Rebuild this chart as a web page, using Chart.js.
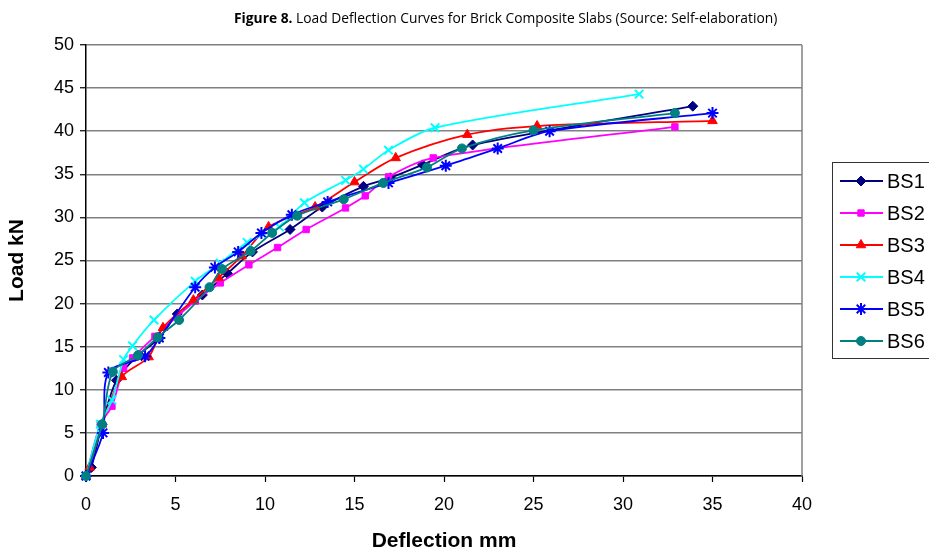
<!DOCTYPE html>
<html>
<head>
<meta charset="utf-8">
<script src="https://cdn.jsdelivr.net/npm/chart.js@4.4.1/dist/chart.umd.min.js"></script>
<style>
  body { margin: 0; background: #fff; }
  #wrap { position: relative; width: 929px; height: 552px; overflow: hidden; }
  #title {
    position: absolute; top: 8px; left: 234px;
    font-family: "Open Sans", sans-serif; font-size: 13.8px; color: #000; white-space: nowrap;
  }
</style>
</head>
<body>
<div id="wrap">
  <div id="title"><b>Figure 8.</b> Load Deflection Curves for Brick Composite Slabs (Source: Self-elaboration)</div>
  <canvas id="myChart" width="929" height="552"></canvas>
</div>
<script>
const seriesNames = ["BS1", "BS2", "BS3", "BS4", "BS5", "BS6"];

// deflection (mm) / load (kN)
const deflBS1 = [0, 0.3, 0.9, 1.7, 2.9, 4.1, 5.1, 6.5, 7.9, 9.3, 11.4, 13.2, 15.5, 17.0, 18.8, 21.6, 33.9];
const loadBS1 = [0, 1, 6, 11.1, 14, 16, 18.8, 21, 23.5, 26, 28.6, 31.2, 33.6, 34.6, 36.1, 38.4, 42.9];

const deflBS2 = [0, 0.8, 1.45, 2.1, 2.6, 3.85, 6.1, 7.5, 9.1, 10.7, 12.3, 14.5, 15.6, 16.9, 19.4, 32.9];
const loadBS2 = [0, 6, 8.1, 12.5, 13.7, 16.2, 20.3, 22.4, 24.5, 26.5, 28.6, 31.1, 32.5, 34.7, 36.9, 40.5];

const deflBS3 = [0, 0.2, 0.9, 2.0, 3.5, 4.3, 6.0, 7.4, 8.7, 10.2, 12.8, 15.0, 17.3, 21.3, 25.2, 35.0];
const loadBS3 = [0, 1, 6, 11.5, 13.8, 17.2, 20.4, 23.0, 25.5, 28.9, 31.2, 34.1, 36.9, 39.6, 40.6, 41.2];

const deflBS4 = [0, 0.8, 1.45, 2.1, 2.6, 3.8, 6.1, 7.5, 9.0, 10.8, 12.2, 14.5, 15.5, 16.9, 19.5, 30.9];
const loadBS4 = [0, 6, 8.8, 13.5, 15.1, 18.1, 22.6, 24.7, 27.1, 28.9, 31.7, 34.3, 35.6, 37.8, 40.4, 44.3];

const deflBS5 = [0, 0.95, 1.25, 3.3, 4.1, 6.1, 7.2, 8.5, 9.8, 11.5, 13.5, 16.9, 20.1, 23.0, 25.9, 35.0];
const loadBS5 = [0, 5, 12, 13.9, 16, 21.9, 24.2, 26, 28.2, 30.3, 31.8, 34, 36, 38, 40, 42.1];

const deflBS6 = [0, 0.9, 1.5, 2.9, 4.0, 5.2, 6.9, 7.6, 9.2, 10.4, 11.8, 14.4, 16.6, 19.05, 21.0, 25.0, 32.9];
const loadBS6 = [0, 6, 12.1, 14, 16.1, 18.1, 21.9, 24, 26.1, 28.2, 30.2, 32.1, 34, 35.8, 38, 40.1, 42.1];

const xTickValues = [0, 5, 10, 15, 20, 25, 30, 35, 40];
const yTickValues = [0, 5, 10, 15, 20, 25, 30, 35, 40, 45, 50];

const deflections = [deflBS1, deflBS2, deflBS3, deflBS4, deflBS5, deflBS6];
const loads = [loadBS1, loadBS2, loadBS3, loadBS4, loadBS5, loadBS6];

const colors = ["#000080", "#ff00ff", "#ff0000", "#00ffff", "#0000ff", "#008080"];
const markers = ["rectRot", "rect", "triangle", "crossRot", "star", "circle"];
const markerSize = [5, 4.5, 5.5, 6, 6, 4.5];

const datasets = seriesNames.map((name, i) => ({
  label: name,
  data: deflections[i].map((x, k) => ({ x: x, y: loads[i][k] })),
  borderColor: colors[i],
  backgroundColor: colors[i],
  pointBackgroundColor: colors[i],
  pointBorderColor: colors[i],
  pointStyle: markers[i],
  pointRadius: markerSize[i],
  pointBorderWidth: markers[i] === "crossRot" || markers[i] === "star" ? 2 : 1,
  borderWidth: 1.8,
  tension: 0.3,
  clip: false,
  order: seriesNames.length - i,
}));

// right border of the plot + Excel style legend box
const frameAndLegend = {
  id: "frameAndLegend",
  afterDraw(chart) {
    const ctx = chart.ctx;
    const a = chart.chartArea;
    ctx.save();
    ctx.strokeStyle = "#808080";
    ctx.lineWidth = 1.5;
    ctx.beginPath();
    ctx.moveTo(a.right, a.top);
    ctx.lineTo(a.right, a.bottom);
    ctx.stroke();

    // legend
    ctx.strokeStyle = "#333";
    ctx.lineWidth = 1;
    ctx.strokeRect(832.5, 162.5, 110, 196);
    ctx.font = "20px 'Liberation Sans', Arial, sans-serif";
    ctx.textBaseline = "middle";
    chart.data.datasets.forEach((ds, i) => {
      const y = 181 + i * 32;
      ctx.strokeStyle = ds.borderColor;
      ctx.lineWidth = 1.8;
      ctx.beginPath();
      ctx.moveTo(840, y);
      ctx.lineTo(883, y);
      ctx.stroke();
      ctx.fillStyle = ds.backgroundColor;
      ctx.lineWidth = ds.pointBorderWidth;
      Chart.helpers.drawPoint(ctx, { pointStyle: ds.pointStyle, radius: ds.pointRadius, rotation: 0, borderWidth: ds.pointBorderWidth }, 861, y);
      ctx.fillStyle = "#000";
      ctx.fillText(ds.label, 887, y + 1);
    });
    ctx.restore();
  },
};

const config = {
  type: "line",
  data: { datasets: datasets },
  options: {
    responsive: false,
    animation: false,
    layout: { padding: { top: 45, right: 127, left: 0, bottom: 0 } },
    plugins: { legend: { display: false }, tooltip: { enabled: false } },
    scales: {
      x: {
        type: "linear",
        min: 0,
        max: 40,
        afterBuildTicks: (scale) => { scale.ticks = xTickValues.map((v) => ({ value: v })); },
        afterFit: (scale) => { scale.height = 76; },
        ticks: { color: "#000", padding: 12, font: { family: "'Liberation Sans', Arial", size: 18 } },
        grid: { drawOnChartArea: false, drawTicks: true, tickLength: 6, tickColor: "#000", tickWidth: 1.2 },
        border: { color: "#000", width: 1.5 },
        title: {
          display: true,
          text: "Deflection mm",
          color: "#000",
          padding: { top: 0, bottom: 0 },
          font: { family: "'Liberation Sans', Arial", size: 21, weight: "bold", lineHeight: 1 },
        },
      },
      y: {
        min: 0,
        max: 50,
        afterBuildTicks: (scale) => { scale.ticks = yTickValues.map((v) => ({ value: v })); },
        afterFit: (scale) => { scale.width = 86; },
        ticks: { color: "#000", padding: 6, font: { family: "'Liberation Sans', Arial", size: 18 } },
        grid: { color: "#808080", lineWidth: 1.5, tickColor: "#000", tickLength: 6, tickWidth: 1.2 },
        border: { color: "#000", width: 1.5 },
        title: {
          display: true,
          text: "Load kN",
          color: "#000",
          padding: { top: 7, bottom: 0 },
          font: { family: "'Liberation Sans', Arial", size: 21, weight: "bold", lineHeight: 1 },
        },
      },
    },
  },
  plugins: [frameAndLegend],
};

const myChart = new Chart(document.getElementById("myChart"), config);
</script>
</body>
</html>
